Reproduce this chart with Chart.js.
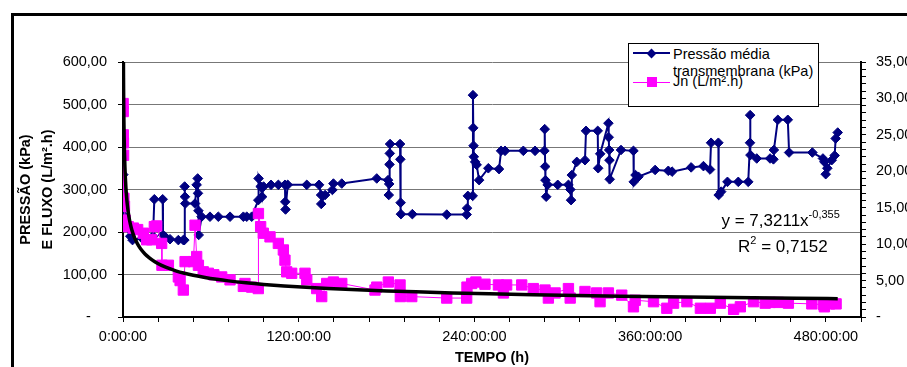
<!DOCTYPE html>
<html>
<head>
<meta charset="utf-8">
<script src="https://cdn.jsdelivr.net/npm/chart.js@4.4.1/dist/chart.umd.min.js"></script>
<style>
  html, body { margin: 0; padding: 0; background: #fff; overflow: hidden; }
  #wrap { position: relative; width: 907px; height: 367px; overflow: hidden;
          font-family: "Liberation Sans", Arial, sans-serif; color: #000; }
  #frame { position: absolute; left: 11px; top: 13px; width: 1000px; height: 1000px;
           border: 3px solid #000; }
  #chart { position: absolute; left: 0; top: 0; }
  .abs { position: absolute; white-space: nowrap; }
  .lgbox { left: 628px; top: 43px; width: 189px; height: 62px; border: 1px solid #000; background: #fff; }
  .lgtext { font-size: 14.5px; line-height: 17px; }
  .eq { font-size: 17px; line-height: 20px; }
  .sup { position: relative; font-size: 11px; }
</style>
</head>
<body>
<div id="wrap">
  <div id="frame"></div>
  <canvas id="chart" width="907" height="367"></canvas>

  <div class="abs lgbox"></div>
  <div class="abs" style="left:633px;top:52px;width:37px;height:2px;background:#000080"></div>
  <div class="abs" style="left:648px;top:49.5px;width:7px;height:7px;background:#000080;transform:rotate(45deg)"></div>
  <div class="abs lgtext" style="left:673px;top:45.5px">Pressão média<br>transmembrana (kPa)</div>
  <div class="abs" style="left:633px;top:81.5px;width:37px;height:1px;background:#FF00FF"></div>
  <div class="abs" style="left:646.5px;top:77px;width:10px;height:10px;background:#FF00FF"></div>
  <div class="abs lgtext" style="left:673px;top:72.5px">Jn (L/m².h)</div>

  <div class="abs eq" style="left:721.5px;top:211px">y = 7,3211x<span class="sup" style="top:-8px">-0,355</span></div>
  <div class="abs eq" style="left:738px;top:237px">R<span class="sup" style="top:-8px">2</span> = 0,7152</div>
</div>

<script>
// Transmembrane pressure readings: elapsed time (h) and pressure (kPa)
const pressureHours = [0.2, 0.4, 1.2, 5.0, 6.5, 13.0, 20.5, 21.4, 27.1, 27.3, 28.7, 32.1, 37.8, 41.2, 41.9, 42.1, 42.3, 42.5,
  49.2, 50.3, 51.0, 51.2, 51.5, 51.7, 53.7, 59.4, 65.1, 73.1, 82.2, 84.5, 87.9, 92.4, 92.6, 94.0, 95.0, 96.0,
  101.1, 106.1, 110.6, 110.8, 111.0, 112.5, 125.5, 133.9, 135.3, 135.4, 138.0, 143.0, 143.7, 149.4, 173.3,
  181.0, 181.5, 181.8, 182.0, 182.2, 182.4, 189.2, 189.4, 189.6, 189.8, 197.6, 221.1, 234.7, 235.0, 235.5,
  238.8, 239.0, 239.2, 239.4, 239.6, 240.5, 241.5, 243.2, 249.5, 256.8, 258.2, 260.9, 273.4, 281.4, 287.8,
  288.0, 288.3, 288.5, 289.0, 290.0, 296.9, 304.2, 305.5, 306.0, 306.5, 309.9, 315.5, 316.2, 324.2, 324.5,
  325.9, 331.5, 331.7, 332.0, 332.2, 332.4, 340.1, 348.6, 348.8, 350.0, 352.0, 363.4, 372.4, 375.0, 388.0,
  396.4, 400.9, 401.6, 406.6, 406.8, 408.5, 412.8, 420.2, 427.0, 428.2, 428.3, 428.5, 432.8, 441.9, 444.2,
  444.5, 447.2, 454.0, 454.9, 470.8, 478.0, 479.0, 479.9, 481.0, 484.0, 486.0, 486.7, 488.1];
const pressureKPa = [335, 240, 215, 190, 181, 185, 190, 277, 277, 193, 189, 183, 181, 181, 181, 307, 283, 267,
  267, 311, 326, 291, 250, 193, 236, 236, 236, 236, 236, 236, 236, 275, 326, 307, 283, 307,
  311, 311, 311, 271, 253, 311, 311, 311, 287, 266, 287, 299, 314, 314, 326,
  322, 287, 313, 359, 385, 407, 407, 371, 269, 242, 242, 241, 241, 256, 285,
  285, 522, 445, 403, 377, 365, 358, 322, 350, 348, 391, 391, 391, 391, 391,
  442, 354, 322, 283, 311, 311, 311, 300, 275, 334, 365, 369, 438, 438, 350,
  384, 456, 423, 393, 369, 324, 393, 391, 318, 334, 330, 346, 344, 342, 352,
  355, 347, 410, 410, 287, 295, 318, 318, 318, 410, 475, 381, 373, 373, 371,
  393, 464, 464, 387, 387, 373, 365, 336, 350, 369, 380, 420, 434];

// Normalised permeate flux Jn (L/m².h) at the same run
const fluxHours = [0.1, 0.15, 0.2, 0.3, 0.4, 0.6, 1.0, 1.5, 3.6, 7.1, 10.0, 13.9, 16.2, 19.6, 21.4, 23.0, 26.4, 26.6,
  31.0, 37.8, 39.0, 41.2, 42.4, 48.1, 49.2, 50.3, 51.5, 54.8, 58.3, 62.0, 67.4, 73.1, 82.2, 83.3, 87.9, 92.4,
  92.5, 94.0, 95.8, 100.4, 106.1, 109.5, 110.6, 111.8, 115.2, 124.3, 125.5, 132.3, 135.7, 139.1, 143.7, 149.4,
  172.1, 173.3, 181.2, 189.2, 189.4, 197.2, 221.1, 234.7, 234.9, 238.1, 241.0, 247.2, 256.4, 259.8, 262.0,
  272.3, 280.2, 288.2, 290.5, 295.1, 304.2, 305.4, 315.5, 323.5, 325.8, 331.5, 340.6, 348.6, 349.8, 362.3,
  371.4, 376.0, 385.1, 394.3, 401.1, 407.9, 417.0, 421.6, 430.6, 438.6, 441.9, 447.6, 454.4, 470.4, 478.3,
  479.0, 482.5, 487.0];
const fluxJn = [29.3, 28.2, 25.0, 23.9, 22.2, 16.3, 15.2, 13.3, 12.4, 12.2, 12.0, 11.5, 10.6, 10.6, 12.4, 12.5, 10.1, 7.1,
  7.1, 5.5, 5.0, 3.7, 7.6, 7.6, 12.6, 8.3, 7.1, 6.2, 6.0, 5.8, 5.5, 5.1, 4.2, 4.6, 4.1, 3.9,
  14.2, 12.4, 11.5, 11.0, 10.1, 9.2, 7.8, 6.2, 6.0, 6.0, 5.1, 3.9, 2.8, 4.6, 4.8, 4.6,
  3.7, 4.1, 4.8, 4.4, 2.8, 2.8, 2.6, 2.6, 4.1, 4.6, 4.8, 4.5, 4.4, 3.3, 4.4,
  4.4, 3.9, 3.7, 2.6, 3.3, 3.9, 2.6, 3.5, 3.3, 2.1, 3.3, 3.0, 1.4, 2.3, 2.1,
  1.2, 1.9, 2.1, 1.2, 1.2, 1.9, 1.05, 1.4, 2.1, 1.9, 2.0, 2.0, 1.9, 1.8, 1.7,
  1.4, 1.8, 1.8];

// Power trend of the flux, y = A·x^B with x in days
const trendA = 7.3211;
const trendB = -0.355;
const trendHours = [0.25, 0.3, 0.35, 0.4, 0.5, 0.6, 0.8, 1, 1.3, 1.6, 2, 2.5, 3, 4, 5, 6, 8, 10, 12, 15, 18, 22, 26,
  30, 36, 42, 48, 56, 64, 72, 84, 96, 110, 125, 140, 160, 180, 200, 225, 250, 280, 310, 340, 370, 400, 430, 460, 488.1];

// Axis tick labels
const leftTickValues = [0, 100, 200, 300, 400, 500, 600];
const rightMajorStep = 5;
const timeMajorStep = 120;

const FONT = '"Liberation Sans", Arial, sans-serif';
const decimal = v => v.toFixed(2).replace('.', ',');

const pressureData = pressureHours.map((h, i) => ({ x: h, y: pressureKPa[i] }));
const fluxData = fluxHours.map((h, i) => ({ x: h, y: fluxJn[i] }));
const trendData = trendHours.map(h => ({ x: h, y: trendA * Math.pow(h / 24, trendB) }));

new Chart(document.getElementById('chart'), {
  type: 'scatter',
  data: {
    datasets: [
      {
        label: 'Tendência',
        data: trendData,
        yAxisID: 'y2',
        showLine: true,
        borderColor: '#000',
        borderWidth: 3.5,
        pointRadius: 0,
        cubicInterpolationMode: 'monotone',
        order: 0
      },
      {
        label: 'Jn (L/m².h)',
        data: fluxData,
        yAxisID: 'y2',
        showLine: true,
        borderColor: '#FF00FF',
        backgroundColor: '#FF00FF',
        borderWidth: 1,
        pointStyle: 'rect',
        pointRadius: 7.3,
        pointBorderWidth: 1,
        order: 1
      },
      {
        label: 'Pressão média transmembrana (kPa)',
        data: pressureData,
        yAxisID: 'y',
        showLine: true,
        borderColor: '#000080',
        backgroundColor: '#000080',
        borderWidth: 2,
        pointStyle: 'rectRot',
        pointRadius: 4.8,
        pointBorderWidth: 1,
        order: 2
      }
    ]
  },
  options: {
    responsive: false,
    devicePixelRatio: 1,
    animation: false,
    layout: { padding: { top: 62, left: 0, right: 0, bottom: 0 } },
    plugins: { legend: { display: false }, tooltip: { enabled: false } },
    scales: {
      x: {
        type: 'linear',
        position: 'bottom',
        min: 0,
        max: 504,
        ticks: {
          stepSize: 24,
          autoSkip: false,
          maxRotation: 0,
          padding: 6,
          color: '#000',
          font: { family: FONT, size: 14.5 },
          callback: v => (v % timeMajorStep === 0 ? v + ':00:00' : '')
        },
        grid: { drawOnChartArea: false, drawTicks: true, tickLength: 5, tickColor: '#000', tickWidth: 1 },
        border: { display: true, color: '#000', width: 2 },
        title: {
          display: true,
          text: 'TEMPO (h)',
          color: '#000',
          font: { family: FONT, size: 14.5, weight: 'bold' },
          padding: { top: 0, bottom: 0 }
        },
        afterFit: s => { s.height = 50; }
      },
      y: {
        type: 'linear',
        position: 'left',
        min: 0,
        max: 600,
        afterBuildTicks: s => { s.ticks = leftTickValues.map(v => ({ value: v })); },
        ticks: {
          padding: 11,
          color: '#000',
          font: { family: FONT, size: 14.5 },
          callback: v => (v === 0 ? '-    ' : decimal(v))
        },
        grid: { color: '#777', lineWidth: 1, drawTicks: true, tickLength: 5, tickColor: '#000' },
        border: { display: true, color: '#000', width: 2 },
        title: {
          display: true,
          text: ['PRESSÃO (kPa)', 'E FLUXO (L/m².h)'],
          color: '#000',
          font: { family: FONT, size: 14.5, weight: 'bold', lineHeight: '21.5px' },
          padding: { top: 15.25, bottom: 0 }
        },
        afterFit: s => { s.width = 123; }
      },
      y2: {
        type: 'linear',
        position: 'right',
        min: 0,
        max: 35,
        ticks: {
          stepSize: 1,
          autoSkip: false,
          padding: 10,
          color: '#000',
          font: { family: FONT, size: 14.5 },
          callback: v => (v % rightMajorStep === 0 ? (v === 0 ? '-' : decimal(v)) : '')
        },
        grid: { drawOnChartArea: false, drawTicks: true, tickLength: 5, tickColor: '#000' },
        border: { display: true, color: '#000', width: 2 },
        afterFit: s => { s.width = 46; }
      }
    }
  }
});
</script>
</body>
</html>
